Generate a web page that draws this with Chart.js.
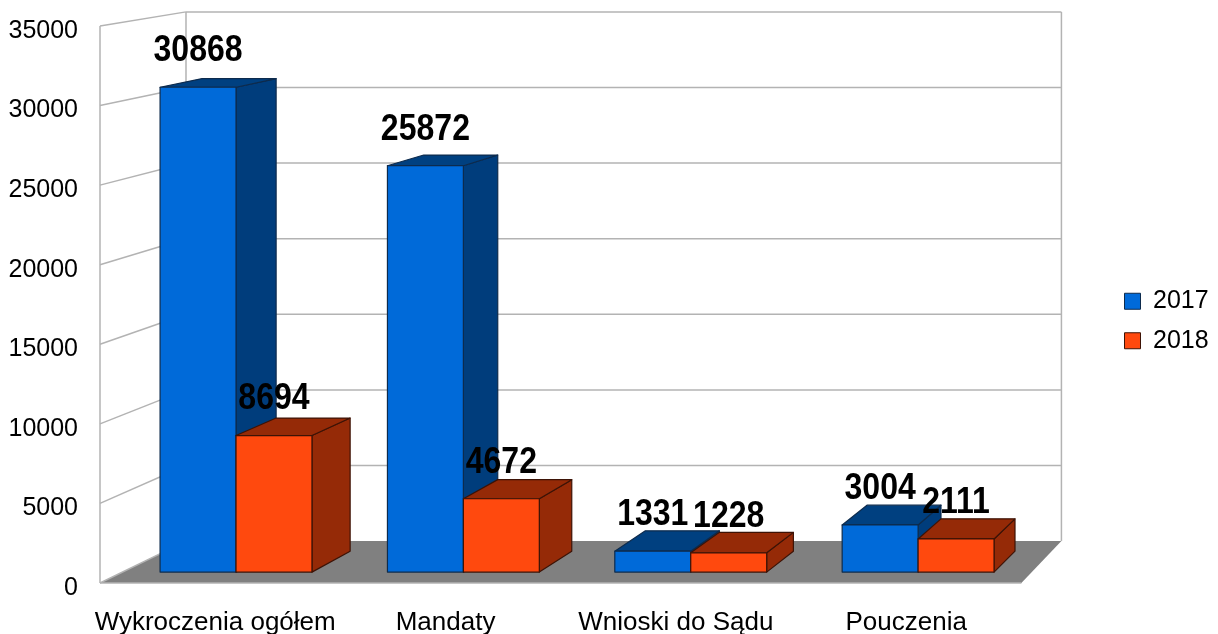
<!DOCTYPE html>
<html>
<head>
<meta charset="utf-8">
<title>Wykroczenia</title>
<script src="https://cdn.jsdelivr.net/npm/chart.js@4"></script>
<style>
  html, body { margin: 0; padding: 0; background: #fff; }
  canvas { display: block; }
</style>
</head>
<body>
<canvas id="myChart" width="1218" height="634"></canvas>
<script>
const categories = ['Wykroczenia ogółem', 'Mandaty', 'Wnioski do Sądu', 'Pouczenia'];
const values2017 = [30868, 25872, 1331, 3004];
const values2018 = [8694, 4672, 1228, 2111];
const yMax = 35000;
const yStep = 5000;

// faces of each box: front, top, side
const shades2017 = ['#006ad9', '#004080', '#003d7c'];
const shades2018 = ['#ff490e', '#952a07', '#952a07'];
const edge2017 = '#0d2b4d';
const edge2018 = '#3d1306';

// perspective of the 3d box, front plane of the plot is depth 0, back wall is depth 1
const vanishX = 1824;
const vanishY = -257;
const depthScale = 0.0525;
const barFront = 0.25;
const barBack = 0.75;

function project(x, y, d) {
    let s = 1 / (1 + depthScale * d);
    return [vanishX + (x - vanishX) * s, vanishY + (y - vanishY) * s];
}

function face(ctx, pts, fill, stroke) {
    ctx.beginPath();
    pts.forEach((p, i) => i ? ctx.lineTo(p[0], p[1]) : ctx.moveTo(p[0], p[1]));
    ctx.closePath();
    ctx.fillStyle = fill;
    ctx.fill();
    if (stroke) {
        ctx.strokeStyle = stroke;
        ctx.lineWidth = 1.2;
        ctx.lineJoin = 'round';
        ctx.stroke();
    }
}

function line(ctx, a, b) {
    ctx.beginPath();
    ctx.moveTo(a[0], a[1]);
    ctx.lineTo(b[0], b[1]);
    ctx.stroke();
}

function drawWalls(chart) {
    const ctx = chart.ctx;
    const area = chart.chartArea;
    const yScale = chart.scales.y;
    const l = area.left, r = area.right, t = area.top, b = area.bottom;

    face(ctx, [project(l, b, 0), project(l, b, 1), project(r, b, 1), project(r, b, 0)], '#808080');

    ctx.strokeStyle = '#b3b3b3';
    ctx.lineWidth = 1.5;
    yScale.ticks.forEach(tick => {
        let y = yScale.getPixelForValue(tick.value);
        line(ctx, project(l, y, 0), project(l, y, 1));
        if (tick.value > 0) {
            line(ctx, project(l, y, 1), project(r, y, 1));
        }
    });
    line(ctx, project(l, t, 0), project(l, b, 0));
    line(ctx, project(l, t, 1), project(l, b, 1));
    line(ctx, project(r, t, 1), project(r, b, 1));
    line(ctx, project(l, b, 0), project(r, b, 0));
}

function drawBox(ctx, bar, shades, edge) {
    let x0 = bar.x - bar.width / 2;
    let x1 = bar.x + bar.width / 2;
    let top = bar.y;
    let base = bar.base;
    face(ctx, [project(x1, top, barFront), project(x1, top, barBack), project(x1, base, barBack), project(x1, base, barFront)], shades[2], edge);
    face(ctx, [project(x0, top, barFront), project(x0, top, barBack), project(x1, top, barBack), project(x1, top, barFront)], shades[1], edge);
    face(ctx, [project(x0, top, barFront), project(x1, top, barFront), project(x1, base, barFront), project(x0, base, barFront)], shades[0], edge);
}

const box3d = {
    id: 'box3d',
    afterLayout(chart) {
        // legend sits out in the right margin, past the end of the back wall
        chart.legend.left = 1110;
        chart.legend.right = 1218;
        chart.legend.top = 171;
        chart.legend.bottom = 471;
    },
    beforeDatasetsDraw(chart) {
        const ctx = chart.ctx;
        drawWalls(chart);

        let bars = chart.getDatasetMeta(0).data;
        let bars2 = chart.getDatasetMeta(1).data;
        categories.forEach((c, i) => {
            drawBox(ctx, bars[i], shades2017, edge2017);
            drawBox(ctx, bars2[i], shades2018, edge2018);
        });

        ctx.fillStyle = '#000';
        ctx.font = 'bold 36px "Liberation Sans"';
        ctx.textAlign = 'center';
        ctx.textBaseline = 'middle';
        [[bars, values2017], [bars2, values2018]].forEach(([els, vals]) => {
            els.forEach((bar, i) => {
                let p = project(bar.x, bar.y, barFront);
                ctx.save();
                ctx.translate(p[0], p[1] - 36);
                ctx.scale(0.89, 1); // the labels are a bit condensed
                ctx.fillText(String(vals[i]), 0, 0);
                ctx.restore();
            });
        });
        return false; // the flat bars are replaced by the boxes above
    }
};

Chart.defaults.font.family = '"Liberation Sans"';
Chart.defaults.color = '#000';

let chart1 = new Chart(document.getElementById('myChart').getContext('2d'), {
    type: 'bar',
    plugins: [box3d],
    data: {
        labels: categories,
        datasets: [
            { label: '2017', data: values2017, backgroundColor: shades2017[0], borderColor: edge2017, borderWidth: 1, borderJoinStyle: 'miter', categoryPercentage: 0.668, barPercentage: 1 },
            { label: '2018', data: values2018, backgroundColor: shades2018[0], borderColor: edge2018, borderWidth: 1, borderJoinStyle: 'miter', categoryPercentage: 0.668, barPercentage: 1 }
        ]
    },
    options: {
        responsive: false,
        animation: false,
        devicePixelRatio: 1,
        layout: { autoPadding: false, padding: { top: 26, left: 0, right: 88, bottom: 0 } },
        plugins: {
            legend: {
                position: 'right',
                labels: { boxWidth: 16, boxHeight: 16, padding: 14.5, font: { size: 25 }, color: '#000' }
            },
            tooltip: { enabled: false }
        },
        scales: {
            x: {
                grid: { display: false },
                border: { display: false },
                afterFit(scale) { scale.height = 51; },
                ticks: { font: { size: 26 }, padding: 16, maxRotation: 0, autoSkip: false }
            },
            y: {
                min: 0,
                max: yMax,
                grid: { display: false, drawTicks: false },
                border: { display: false },
                afterFit(scale) {
                    scale.width = 100;
                    scale.paddingTop = 0; // else the top label pushes the plot down
                },
                ticks: { stepSize: yStep, font: { size: 25 }, padding: 22, labelOffset: 5, callback: v => String(v) }
            }
        }
    }
});
</script>
</body>
</html>
